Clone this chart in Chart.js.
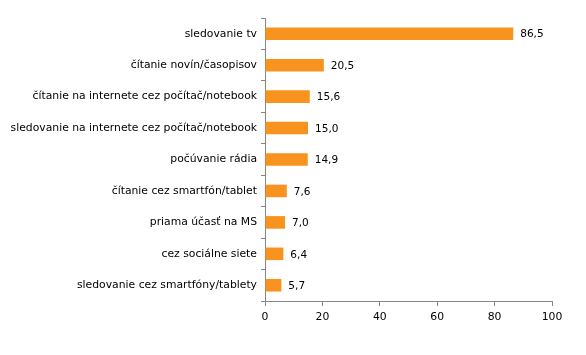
<!DOCTYPE html>
<html>
<head>
<meta charset="utf-8">
<script src="https://cdn.jsdelivr.net/npm/chart.js@4"></script>
<style>
  html, body { margin: 0; padding: 0; background: #fff; }
  #wrap { width: 586px; height: 355px; position: relative; }
</style>
</head>
<body>
<div id="wrap"><canvas id="c" width="586" height="355"></canvas></div>
<script>
const categories = [
  "sledovanie tv",
  "čítanie novín/časopisov",
  "čítanie na internete cez počítač/notebook",
  "sledovanie na internete cez počítač/notebook",
  "počúvanie rádia",
  "čítanie cez smartfón/tablet",
  "priama účasť na MS",
  "cez sociálne siete",
  "sledovanie cez smartfóny/tablety"
];
const values = [86.5, 20.5, 15.6, 15.0, 14.9, 7.6, 7.0, 6.4, 5.7];
const xTicks = [0, 20, 40, 60, 80, 100];

const FONT = "'DejaVu Sans', Verdana, sans-serif";
const AXIS = "#868686";

const valueLabels = {
  id: 'valueLabels',
  afterDatasetsDraw(chart) {
    const ctx = chart.ctx;
    const meta = chart.getDatasetMeta(0);
    ctx.save();
    ctx.font = "10.5px " + FONT;
    ctx.fillStyle = "#000";
    ctx.textAlign = "left";
    ctx.textBaseline = "middle";
    meta.data.forEach((bar, i) => {
      const txt = values[i].toFixed(1).replace('.', ',');
      ctx.fillText(txt, bar.x + 7, bar.y + 1);
    });
    ctx.restore();
  }
};

new Chart(document.getElementById('c'), {
  type: 'bar',
  data: {
    labels: categories,
    datasets: [{
      data: values,
      backgroundColor: "#F7931E",
      borderWidth: 0,
      barPercentage: 0.4,
      categoryPercentage: 1.0
    }]
  },
  plugins: [valueLabels],
  options: {
    indexAxis: 'y',
    responsive: false,
    animation: false,
    layout: { padding: { top: 18, right: 34, left: 0, bottom: 29 } },
    plugins: { legend: { display: false }, tooltip: { enabled: false } },
    scales: {
      x: {
        min: 0, max: 100,
        afterBuildTicks(scale) { scale.ticks = xTicks.map(v => ({ value: v })); },
        afterFit(scale) { scale.height = 25; },
        border: { color: AXIS, width: 1 },
        grid: { drawOnChartArea: false, drawTicks: true, tickLength: 5, color: AXIS },
        ticks: { font: { family: FONT, size: 10.8 }, color: "#000", padding: 5, maxRotation: 0 }
      },
      y: {
        afterFit(scale) { scale.width = 265; },
        border: { color: AXIS, width: 1 },
        grid: { drawOnChartArea: false, drawTicks: true, tickLength: 4, color: AXIS, offset: true },
        ticks: { font: { family: FONT, size: 10.8 }, color: "#000", padding: 4, autoSkip: false }
      }
    }
  }
});
</script>
</body>
</html>
